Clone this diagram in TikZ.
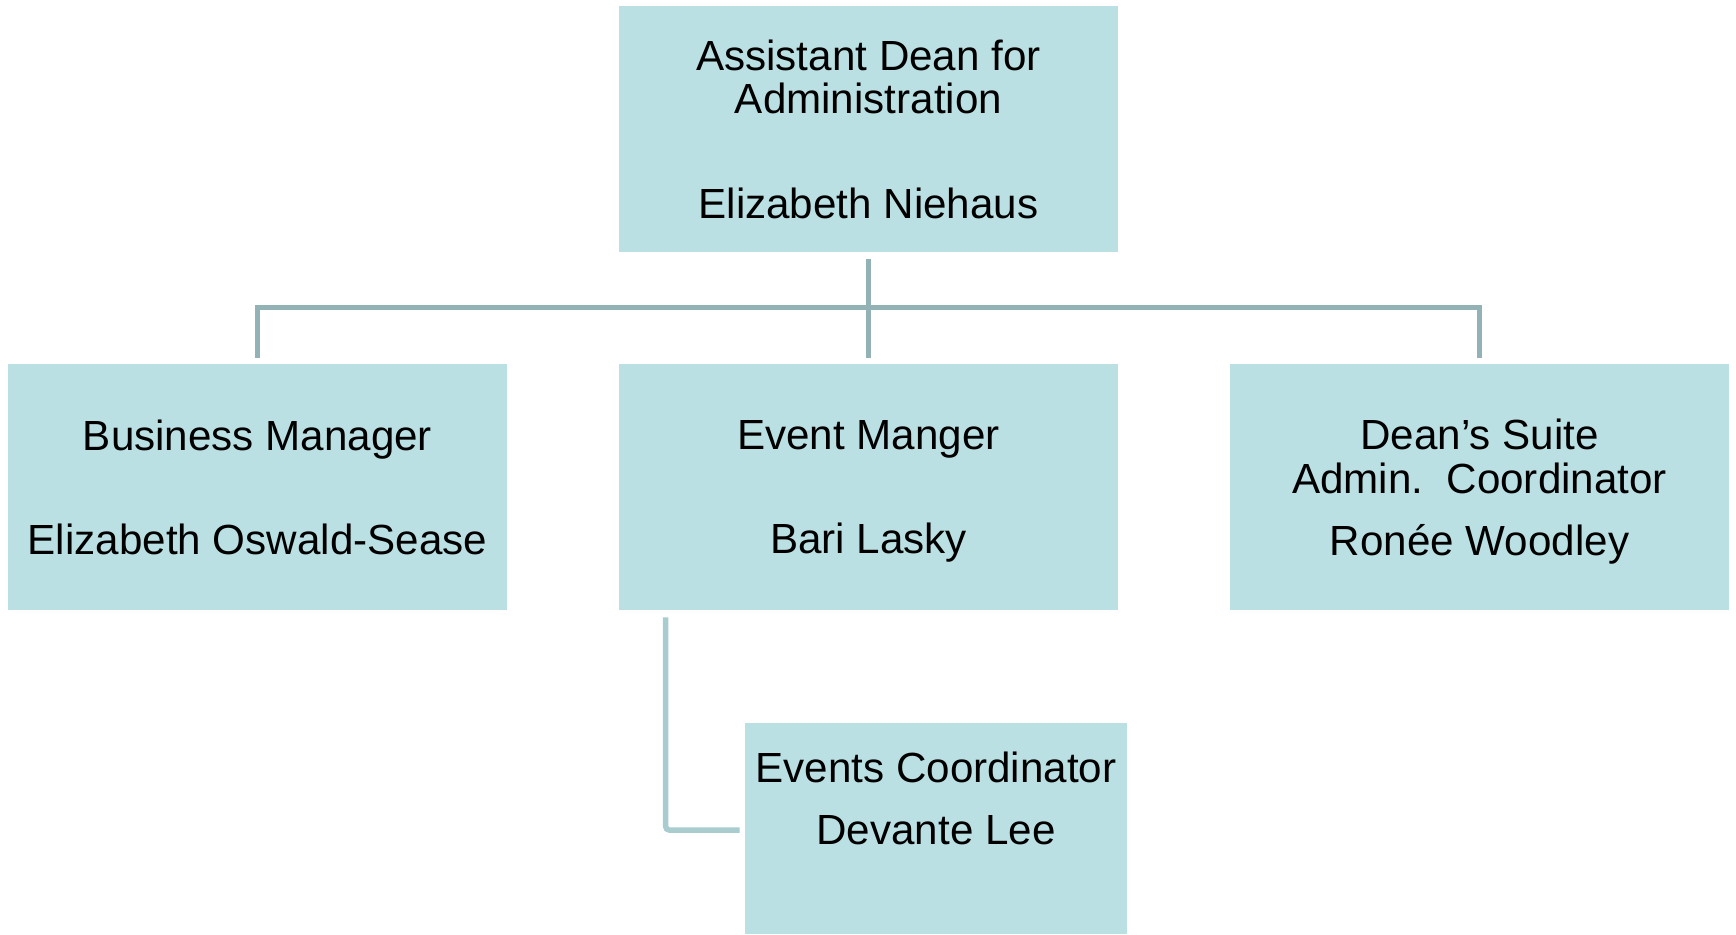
\documentclass[tikz,border=0pt]{standalone}
\usepackage{fontspec}
\setmainfont{Liberation Sans}
\usetikzlibrary{calc}
\definecolor{boxfill}{RGB}{186,224,227}
\definecolor{linkcol}{RGB}{147,178,182}
\definecolor{sublinkcol}{RGB}{169,204,206}

\begin{document}
\begin{tikzpicture}[x=0.02cm,y=-0.02cm,
    post/.style={fill=boxfill, inner sep=0pt, align=center, text depth=0pt,
      font=\fontsize{24}{25}\selectfont, minimum width=9.98cm, minimum height=4.92cm},
    link/.style={draw=linkcol, line width=0.11cm},
    sublink/.style={draw=sublinkcol, line width=0.11cm, rounded corners=2pt}]
  \useasboundingbox (0,0) rectangle (1736,934);
  % boxes
  \node[post] (ad) at (868.5,129) {Assistant Dean for\\Administration\\[34.5pt]Elizabeth Niehaus};
  \node[post] (bm) at (257.5,487) {Business Manager\\[34.5pt]Elizabeth Oswald-Sease};
  \node[post] (em) at (868.5,487) {Event Manger\\[34.5pt]Bari Lasky};
  \node[post] (ds) at (1479.5,487) {Dean’s Suite\\Admin.\ \ Coordinator\\[10pt]Ronée Woodley};
  \node[post, minimum width=7.64cm, minimum height=4.22cm, text depth=1.22cm] (ec) at (936,828.5) {Events Coordinator\\[10pt]Devante Lee};
  % connectors
  \draw[link] ($(ad.south)+(0,7)$) -- ($(em.north)+(0,-6)$);
  \draw[link] ($(bm.north)+(0,-6)$) |- ($(ds.north)+(0,-56)$) -- ($(ds.north)+(0,-6)$);
  \draw[sublink] ($(em.south west)+(47,7)$) |- ($(ec.west)+(-5,1.5)$);
\end{tikzpicture}
\end{document}
